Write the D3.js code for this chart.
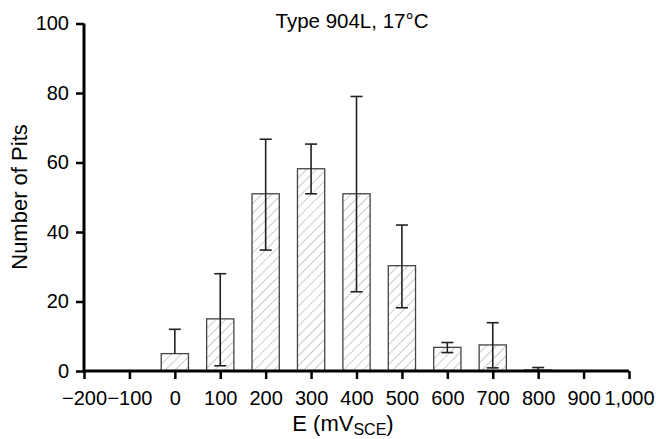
<!DOCTYPE html>
<html>
<head>
<meta charset="utf-8">
<script src="https://cdn.jsdelivr.net/npm/d3@7"></script>
<style>
  body { margin: 0; background: #fff; }
  svg { font-family: "Liberation Sans", Arial, Helvetica, sans-serif; }
</style>
</head>
<body>
<svg width="656" height="439"></svg>
<script>
const potentials = [0, 100, 200, 300, 400, 500, 600, 700, 800];
const pits = [5, 15, 51, 58.2, 51, 30.3, 6.8, 7.5, 0.3];
const errHigh = [12, 28, 66.7, 65.3, 79, 42, 8.2, 13.9, 1];
const errLow = [null, 1.5, 34.8, 51, 22.8, 18.2, 5.3, 0.9, 0];
const xTicks = [-200, -100, 0, 100, 200, 300, 400, 500, 600, 700, 800, 900, 1000];
const yTicks = [0, 20, 40, 60, 80, 100];

const svg = d3.select("svg");
const x = d3.scaleLinear().domain([-200, 1000]).range([84, 629]);
const y = d3.scaleLinear().domain([0, 100]).range([371, 23.5]);
const barW = x(60) - x(0);

// hatch
const defs = svg.append("defs");
const pat = defs.append("pattern")
    .attr("id", "hatch")
    .attr("patternUnits", "userSpaceOnUse")
    .attr("width", 7).attr("height", 7)
    .attr("patternTransform", "rotate(45)");
pat.append("line")
    .attr("x1", 0).attr("y1", 0).attr("x2", 0).attr("y2", 7)
    .attr("stroke", "#8a8a8a").attr("stroke-width", 0.9);

const data = potentials.map((p, i) => ({p, v: pits[i], hi: errHigh[i], lo: errLow[i]}));

svg.append("g").selectAll("rect")
    .data(data)
    .join("rect")
    .attr("x", d => x(d.p) - barW / 2)
    .attr("y", d => y(d.v))
    .attr("width", barW)
    .attr("height", d => y(0) - y(d.v))
    .attr("fill", "url(#hatch)")
    .attr("stroke", "#444")
    .attr("stroke-width", 1.3);

// error bars
const eb = svg.append("g").attr("stroke", "#222").attr("stroke-width", 1.6);
data.forEach(d => {
    const lo = d.lo == null ? d.v : d.lo;
    eb.append("line").attr("x1", x(d.p)).attr("x2", x(d.p)).attr("y1", y(d.hi)).attr("y2", y(lo));
    eb.append("line").attr("x1", x(d.p) - 6).attr("x2", x(d.p) + 6).attr("y1", y(d.hi)).attr("y2", y(d.hi));
    if (d.lo != null) {
        eb.append("line").attr("x1", x(d.p) - 6).attr("x2", x(d.p) + 6).attr("y1", y(d.lo)).attr("y2", y(d.lo));
    }
});

// axes
const xAxis = svg.append("g")
    .attr("transform", `translate(0,${y(0)})`)
    .call(d3.axisBottom(x).tickValues(xTicks).tickSize(8).tickPadding(12).tickFormat(d3.format(",")));
const yAxis = svg.append("g")
    .attr("transform", `translate(${x(-200)},0)`)
    .call(d3.axisLeft(y).tickValues(yTicks).tickSize(8).tickPadding(7));

[xAxis, yAxis].forEach(g => {
    g.select(".domain").attr("stroke", "#000").attr("stroke-width", 3);
    g.selectAll(".tick line").attr("stroke", "#000").attr("stroke-width", 2.5);
    g.selectAll(".tick text").attr("fill", "#000").style("font-size", "20px")
        .style("font-family", "'Liberation Sans', Arial, sans-serif");
});
xAxis.select(".domain").attr("d", `M${x(-200)},0H${x(1000)}`);
yAxis.select(".domain").attr("d", `M0,${y(0) + 1.5}V${y(100)}`);

// title
svg.append("text")
    .attr("x", 352).attr("y", 28)
    .attr("text-anchor", "middle")
    .style("font-size", "20.5px")
    .text("Type 904L, 17°C");

// x label
const xl = svg.append("text")
    .attr("x", 343).attr("y", 431)
    .attr("text-anchor", "middle")
    .style("font-size", "22px");
xl.append("tspan").text("E (mV");
xl.append("tspan").attr("dy", 4).style("font-size", "16px").text("SCE");
xl.append("tspan").attr("dy", -4).text(")");

// y label
svg.append("text")
    .attr("transform", `translate(27,197) rotate(-90)`)
    .attr("text-anchor", "middle")
    .style("font-size", "22px")
    .text("Number of Pits");
</script>
</body>
</html>
